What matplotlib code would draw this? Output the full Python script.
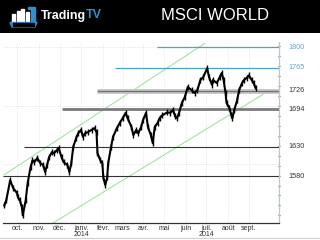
import matplotlib
matplotlib.use('Agg')
import matplotlib.pyplot as plt
from matplotlib.patches import Rectangle, Polygon
from matplotlib.lines import Line2D
from matplotlib.ticker import MultipleLocator
import pandas as pd

plt.rcParams['font.family'] = ['Liberation Sans', 'DejaVu Sans']

# trading sessions counted from Mon 9 Sep 2013, closes
session = [3, 5, 9, 12, 16, 17, 19, 21, 22, 25,
           27, 30, 32, 34, 37, 40, 43, 45, 47, 49,
           52, 54, 57, 59, 62, 64, 68, 70, 72, 74,
           77, 79, 82, 84, 86, 89, 93, 96, 98, 99,
           102, 104, 105, 107, 109, 110, 113, 115, 119, 122,
           125, 128, 130, 134, 136, 139, 141, 144, 146, 149,
           151, 154, 156, 158, 161, 163, 166, 171, 174, 177,
           179, 181, 183, 186, 189, 192, 196, 199, 202, 205,
           208, 212, 214, 217, 218, 222, 225, 227, 229, 231,
           232, 235, 237, 238, 240, 243, 245, 248, 250, 253,
           255, 258, 260, 262]
close = [1530, 1539, 1573, 1560, 1551, 1544, 1539, 1527, 1513, 1539,
         1568, 1595, 1607, 1604, 1611, 1602, 1599, 1587, 1599, 1612,
         1621, 1619, 1624, 1628, 1612, 1604, 1599, 1587, 1602, 1630,
         1645, 1653, 1659, 1647, 1653, 1655, 1659, 1662, 1655, 1619,
         1607, 1602, 1578, 1565, 1578, 1602, 1630, 1647, 1662, 1671,
         1679, 1688, 1679, 1664, 1650, 1659, 1653, 1664, 1676, 1688,
         1664, 1650, 1636, 1664, 1671, 1679, 1684, 1689, 1688, 1693,
         1682, 1679, 1688, 1705, 1715, 1732, 1727, 1722, 1727, 1744,
         1749, 1764, 1749, 1736, 1744, 1739, 1749, 1756, 1744, 1722,
         1705, 1696, 1684, 1679, 1693, 1710, 1727, 1739, 1744, 1748,
         1752, 1744, 1739, 1730]

# support / resistance levels and the session where each one starts
levels = [1800, 1765, 1726, 1694, 1630, 1580]
level_start = [160, 117, 98, 62, 23, 0]

# rising channel (two anchor points per line)
chan_up_x, chan_up_y = [2.6, 209.8], [1582, 1807]
chan_lo_x, chan_lo_y = [53.1, 276.9], [1500, 1727]

month_labels = ['oct.', 'nov.', 'déc.', 'janv.\n2014', 'févr.', 'mars', 'avr.',
                'mai', 'juin', 'juil.\n2014', 'août', 'sept.']

bd = pd.bdate_range('2013-09-09', periods=290)
idx = pd.Series(range(len(bd)), index=bd)
firsts = idx.groupby([bd.year, bd.month]).first()
month_pos = list(firsts.loc[(2013, 10):(2014, 9)].values)

x0, x1 = 1.6, 286.1
W, H = 320, 240
fig = plt.figure(figsize=(3.2, 2.4), dpi=100)

# header band
hdr = fig.add_axes([0, 1 - 33 / H, 1, 33 / H])
hdr.set_xlim(0, W)
hdr.set_ylim(33, 0)
hdr.axis('off')
hdr.add_patch(Rectangle((0, 0), W, 33, color='black'))
blue = '#2f8fd0'
for bx, top in [(12, 14), (16.5, 11), (21, 9), (25.5, 12)]:
    hdr.add_patch(Rectangle((bx, top), 3.2, 22 - top, color='white'))
hdr.add_patch(Rectangle((31, 7), 3.5, 16, color=blue))
hdr.add_patch(Rectangle((28, 7), 4, 2.2, color=blue))
hdr.add_patch(Polygon([(10, 22.5), (37, 22.5), (35, 27), (12, 27)], color=blue))
hdr.add_patch(Rectangle((13, 23.2), 21, 2.4, color='black'))
hdr.text(41, 15.5, 'Trading', color='white', fontsize=9, fontweight='bold',
         va='center', ha='left')
hdr.text(85.5, 15.5, 'TV', color=blue, fontsize=9, fontweight='bold',
         va='center', ha='left')
hdr.text(215, 16, 'MSCI WORLD', color='white', fontsize=12, va='center', ha='center')

fig.add_artist(Line2D([0, 1], [1 - 238 / H] * 2, color='#d0d0d0', lw=0.8))

ax = fig.add_axes([3 / W, 1 - 223 / H, 276 / W, (223 - 42) / H])
ax.set_xlim(x0, x1)
ax.set_ylim(1500, 1809)

for v in [1600, 1700, 1800]:
    ax.axhline(v, color='#dcdcdc', lw=0.6, ls=(0, (1, 1.5)), zorder=0)
for m in month_pos:
    ax.axvline(m, color='#e2e2e2', lw=0.6, ls=(0, (1, 1.5)), zorder=0)

ax.plot(chan_up_x, chan_up_y, color='#a6e0a6', lw=0.8, zorder=1)
ax.plot(chan_lo_x, chan_lo_y, color='#a6e0a6', lw=0.8, zorder=1)

teal = '#4aa3c8'
for v, s in zip(levels, level_start):
    if v in (1800, 1765):
        ax.hlines(v, s, x1, color=teal, lw=0.9, zorder=2)
    elif v == 1726:
        ax.hlines(v, s, x1, color='#cacaca', lw=3.6, zorder=2)
        ax.hlines(v, s, x1, color='#707070', lw=1.0, zorder=2)
    elif v == 1694:
        ax.hlines(v, s, x1, color='#7a7a7a', lw=2.0, zorder=2)
    else:
        ax.hlines(v, max(s, x0), x1, color='#333333', lw=0.8, zorder=2)

# daily bars look: thick line with small vertical ticks at each reading
ax.plot(session, close, color='black', lw=1.5, zorder=3,
        marker='|', markersize=4, markeredgewidth=1.0)

ytr = ax.get_yaxis_transform()
for v in levels:
    c = '#5aa8cc' if v in (1800, 1765) else '#333333'
    ax.text(1 + 9 / 276, v, str(v), transform=ytr, fontsize=5.2, color=c,
            va='center', ha='left')

for sp in ['top', 'left']:
    ax.spines[sp].set_visible(False)
ax.spines['bottom'].set_color('#333333')
ax.spines['bottom'].set_linewidth(0.9)
ax.spines['right'].set_color('#a8cce6')
ax.spines['right'].set_linewidth(0.9)
ax.yaxis.tick_right()
ax.set_yticks([])
ax.yaxis.set_minor_locator(MultipleLocator(17))
ax.tick_params(axis='y', which='minor', length=2, width=0.8, color='#555555',
               direction='inout')
ax.set_xticks(month_pos, month_labels)
ax.tick_params(axis='x', length=0, pad=1.5, labelsize=5, labelcolor='#333333')
for t in ax.get_xticklabels():
    t.set_linespacing(0.85)

fig.savefig('out.png', dpi=100)
